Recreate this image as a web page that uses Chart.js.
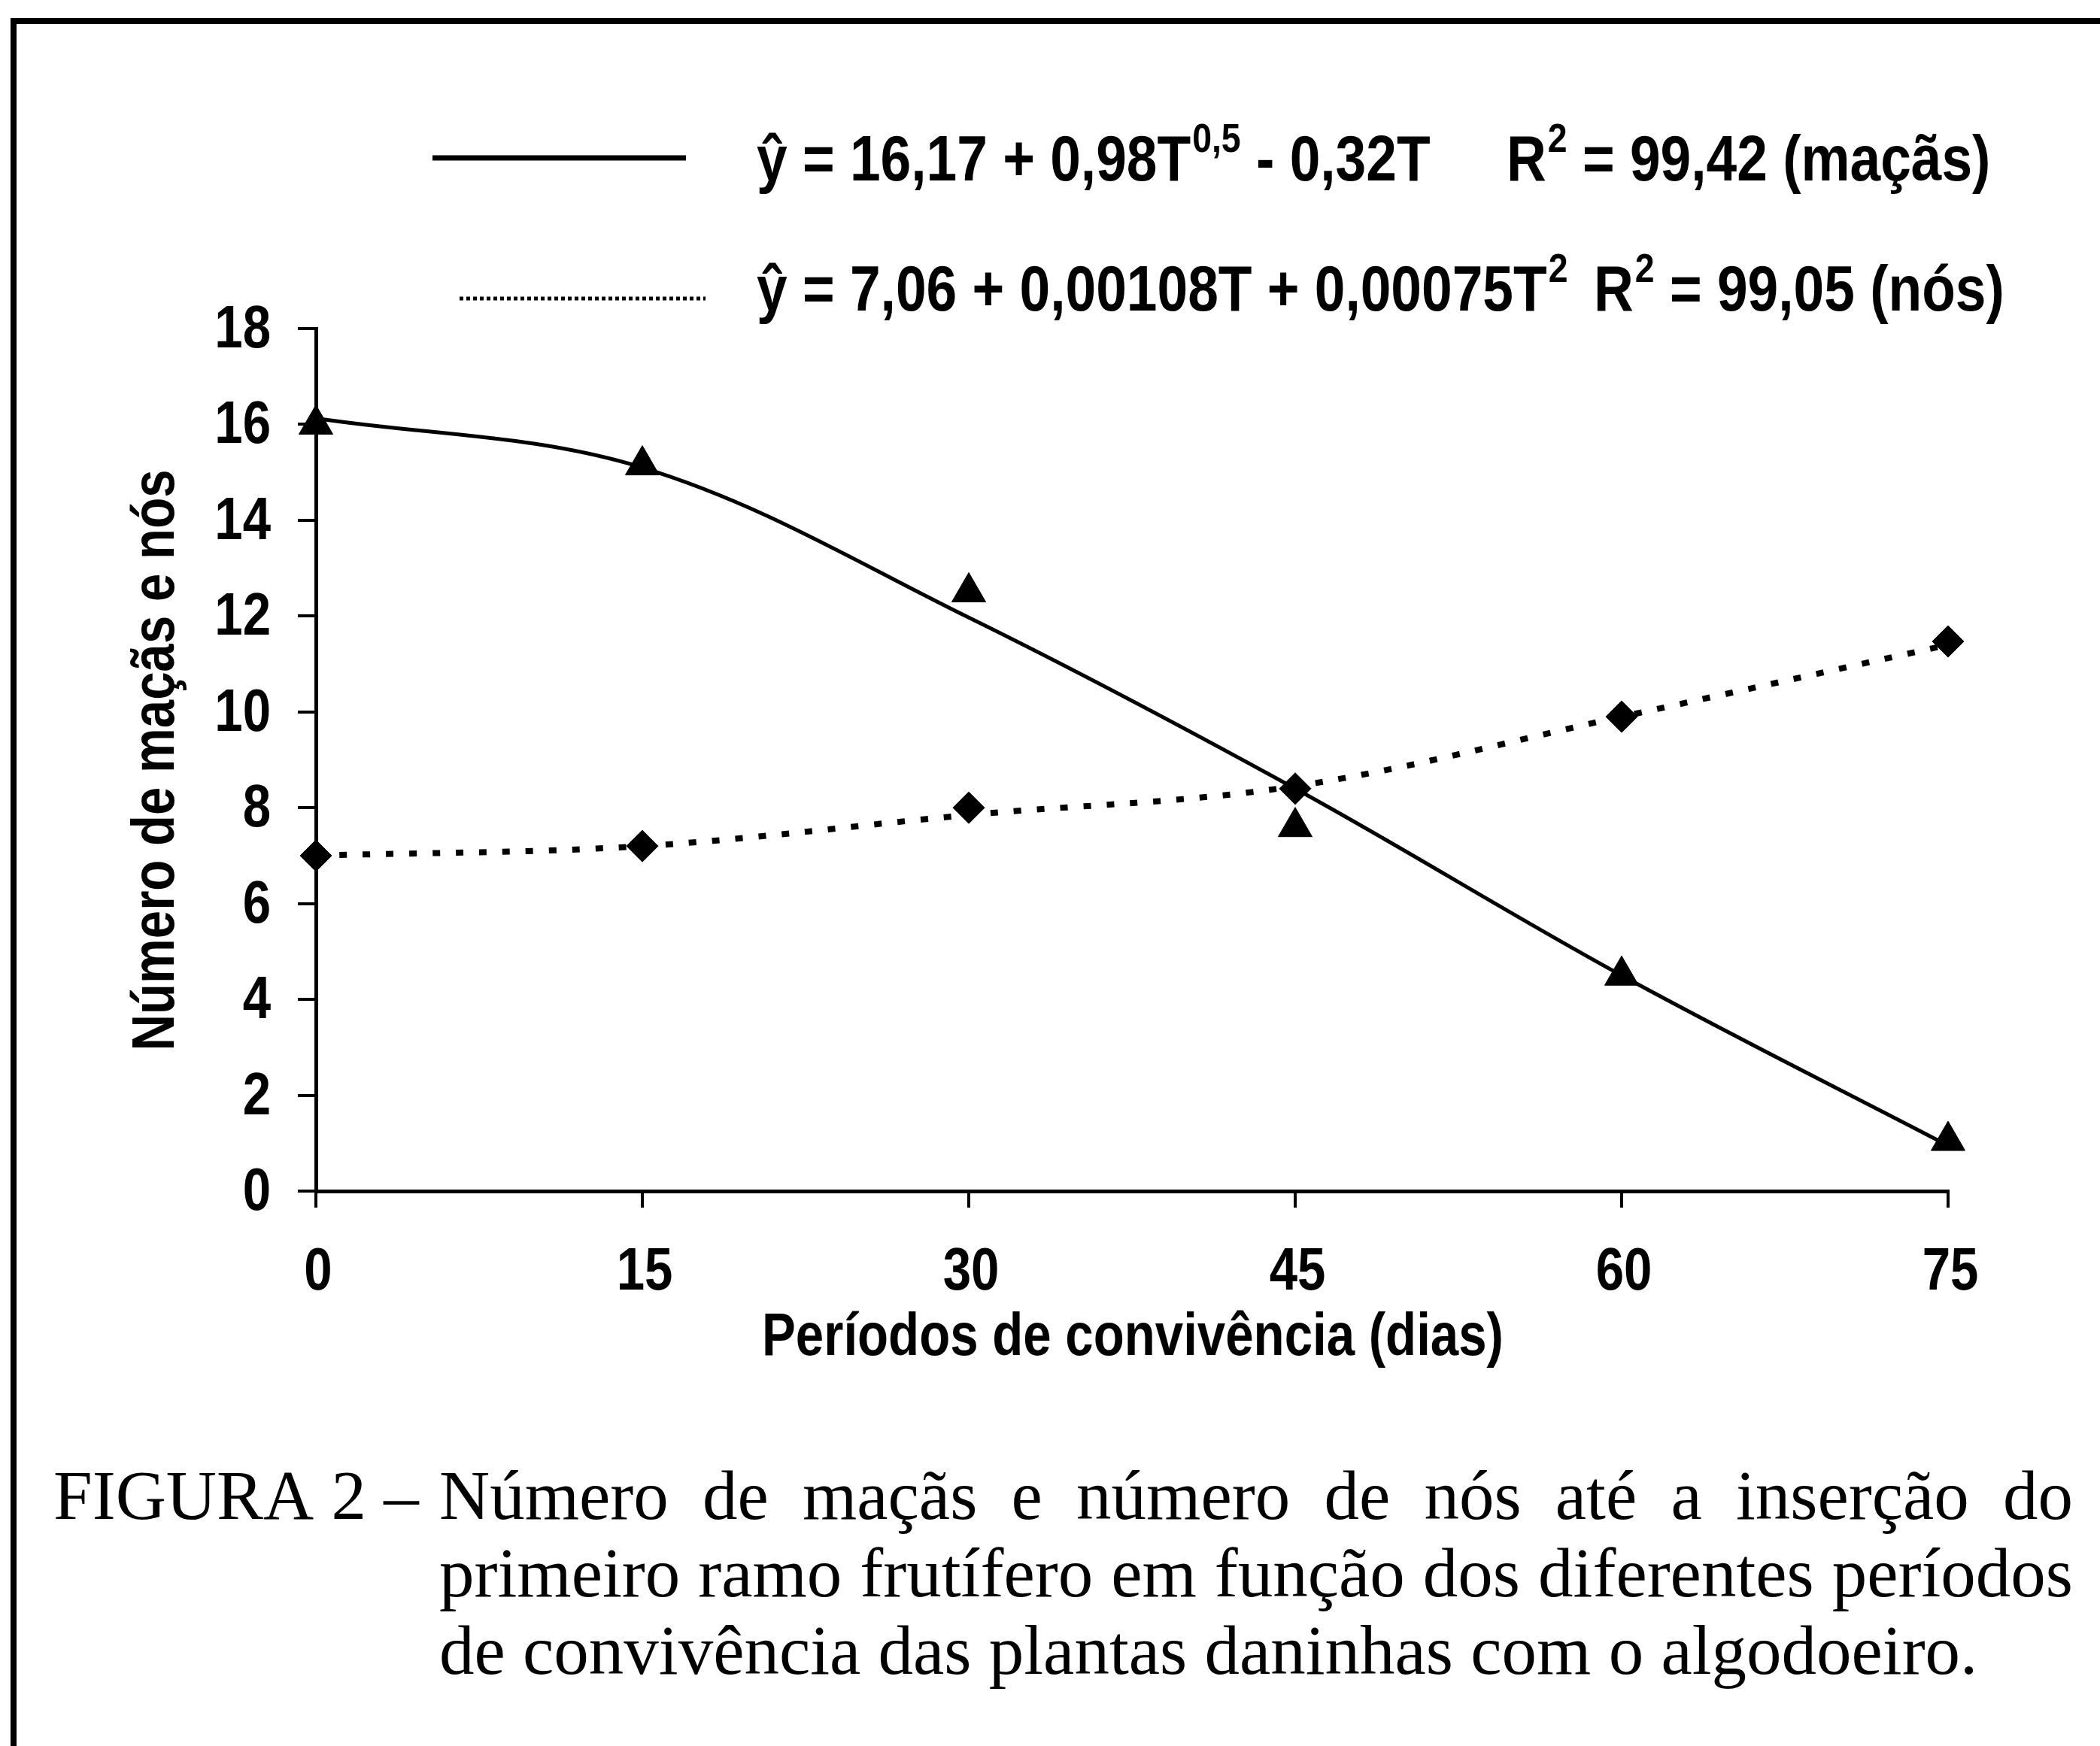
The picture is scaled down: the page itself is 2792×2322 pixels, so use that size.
<!DOCTYPE html>
<html>
<head>
<meta charset="utf-8">
<script src="https://cdn.jsdelivr.net/npm/chart.js@4.4.0/dist/chart.umd.min.js"></script>
<style>
html, body { margin: 0; padding: 0; background: #fff; }
canvas { display: block; }
</style>
</head>
<body>
<canvas id="grafico" width="2792" height="2322"></canvas>
<script>
// dados
const periodos = [0, 15, 30, 45, 60, 75];
const macasObs = [16.0, 15.15, 12.5, 7.6, 4.5, 1.05];
const macasAjust = [16.13, 15.1, 11.97, 8.4, 4.5, 0.95];
const nosObs = [7.0, 7.2, 8.0, 8.4, 9.9, 11.47];
const nosAjust = [7.0, 7.2, 7.85, 8.45, 9.9, 11.4];
const xTicks = ['0', '15', '30', '45', '60', '75'];
const yTicks = ['0', '2', '4', '6', '8', '10', '12', '14', '16', '18'];

const xTitulo = 'Períodos de convivência (dias)';
const yTitulo = 'Número de maçãs e nós';
const legenda1 = [['ŷ = 16,17 + 0,98T', 0], ['0,5', 1], [' - 0,32T', 0]];
const legenda1R = [['R', 0], ['2', 1], [' = 99,42 (maçãs)', 0]];
const legenda2 = [['ŷ = 7,06 + 0,00108T + 0,00075T', 0], ['2', 1]];
const legenda2R = [['R', 0], ['2', 1], [' = 99,05 (nós)', 0]];
const figura = 'FIGURA 2 –';
const legendaFig = [
    'Número de maçãs e número de nós até a inserção do',
    'primeiro ramo frutífero em função dos diferentes períodos',
    'de convivência das plantas daninhas com o algodoeiro.'
];

const SANS = '"Liberation Sans", Arial, sans-serif';
const SERIF = '"Liberation Serif", "Times New Roman", serif';
const F80 = 'bold 80px ' + SANS;
const SX = 0.84; // fonte do grafico e estreita

function txt(ctx, s, x, y, font, align, sx) {
    ctx.save();
    ctx.font = font;
    ctx.textAlign = align;
    ctx.textBaseline = 'alphabetic';
    ctx.translate(x, y);
    ctx.scale(sx, 1);
    ctx.fillText(s, 0, 0);
    const w = ctx.measureText(s).width * sx;
    ctx.restore();
    return w;
}

// texto da legenda, com expoentes
function partes(ctx, lista, x, y) {
    lista.forEach(([s, sup]) => {
        if (sup) {
            x += txt(ctx, s, x + 2, y - 38, 'bold 54px ' + SANS, 'left', 0.86) + 2;
        } else {
            x += txt(ctx, s, x, y, 'bold 85px ' + SANS, 'left', 0.86);
        }
    });
}

function justificar(ctx, linha, x0, x1, y) {
    const words = linha.split(' ');
    const ws = words.map(w => ctx.measureText(w).width);
    const tot = ws.reduce((a, b) => a + b, 0);
    const gap = (x1 - x0 - tot) / (words.length - 1);
    let x = x0;
    words.forEach((w, i) => {
        ctx.fillText(w, x, y);
        x += ws[i] + gap;
    });
}

const textos = {
    id: 'textos',
    afterDraw: (chart) => {
        const ctx = chart.ctx;
        const xs = chart.scales.x;
        const ys = chart.scales.y;
        ctx.save();
        ctx.fillStyle = '#000';
        ctx.strokeStyle = '#000';

        // moldura
        ctx.lineWidth = 8;
        ctx.beginPath();
        ctx.moveTo(18, 2322);
        ctx.lineTo(18, 28);
        ctx.lineTo(2792, 28);
        ctx.stroke();

        // rotulos dos eixos
        yTicks.forEach(t => txt(ctx, t, 360, ys.getPixelForValue(+t) + 25, F80, 'right', SX));
        xTicks.forEach(t => txt(ctx, t, xs.getPixelForValue(+t) + 3, 1715, F80, 'center', SX));

        txt(ctx, xTitulo, 1506, 1802, F80, 'center', SX);

        ctx.save();
        ctx.translate(203, 1011);
        ctx.rotate(-Math.PI / 2);
        txt(ctx, yTitulo, 0, 28, F80, 'center', SX);
        ctx.restore();

        // legenda
        ctx.lineWidth = 7;
        ctx.beginPath();
        ctx.moveTo(575, 210);
        ctx.lineTo(912, 210);
        ctx.stroke();
        ctx.lineWidth = 5;
        ctx.setLineDash([5, 4]);
        ctx.beginPath();
        ctx.moveTo(611, 397);
        ctx.lineTo(938, 397);
        ctx.stroke();
        ctx.setLineDash([]);

        partes(ctx, legenda1, 1006, 240);
        partes(ctx, legenda1R, 2003, 240);
        partes(ctx, legenda2, 1006, 413);
        partes(ctx, legenda2R, 2119, 413);

        // legenda da figura
        ctx.font = '93px ' + SERIF;
        ctx.textAlign = 'left';
        ctx.textBaseline = 'alphabetic';
        ctx.fillText(figura, 71, 2020);
        justificar(ctx, legendaFig[0], 584, 2756, 2020);
        justificar(ctx, legendaFig[1], 584, 2756, 2123);
        ctx.fillText(legendaFig[2], 584, 2226);

        ctx.restore();
    }
};

const pontos = (ys) => periodos.map((p, i) => ({x: p, y: ys[i]}));

const grafico = new Chart(document.getElementById('grafico'), {
    type: 'line',
    data: {
        datasets: [
            {
                label: 'maçãs (observado)',
                data: pontos(macasObs),
                showLine: false,
                pointStyle: 'triangle',
                pointRadius: 26,
                pointBackgroundColor: '#000',
                pointBorderColor: '#000',
                pointBorderWidth: 1,
                clip: false,
            },
            {
                label: 'nós (observado)',
                data: pontos(nosObs),
                showLine: false,
                pointStyle: 'rectRot',
                pointRadius: 21,
                pointBackgroundColor: '#000',
                pointBorderColor: '#000',
                pointBorderWidth: 1,
                clip: false,
            },
            {
                label: 'maçãs (ajustado)',
                data: pontos(macasAjust),
                borderColor: '#000',
                borderWidth: 5,
                pointRadius: 0,
                tension: 0.35,
                clip: false,
            },
            {
                label: 'nós (ajustado)',
                data: pontos(nosAjust),
                borderColor: '#000',
                borderWidth: 8,
                borderDash: [10, 21],
                pointRadius: 0,
                tension: 0.35,
                clip: false,
            }
        ]
    },
    options: {
        responsive: false,
        animation: false,
        devicePixelRatio: 1,
        layout: {
            padding: {left: 396, top: 437, right: 202, bottom: 716}
        },
        plugins: {
            legend: false,
            tooltip: {enabled: false},
        },
        scales: {
            x: {
                type: 'linear',
                min: 0,
                max: 75,
                ticks: {stepSize: 15, display: false},
                grid: {drawOnChartArea: false, drawTicks: true, tickLength: 22, color: '#000', lineWidth: 4},
                border: {display: true, color: '#000', width: 5},
            },
            y: {
                min: 0,
                max: 18,
                ticks: {stepSize: 2, display: false},
                grid: {drawOnChartArea: false, drawTicks: true, tickLength: 24, color: '#000', lineWidth: 4},
                border: {display: true, color: '#000', width: 5},
            }
        }
    },
    plugins: [textos],
});
</script>
</body>
</html>
